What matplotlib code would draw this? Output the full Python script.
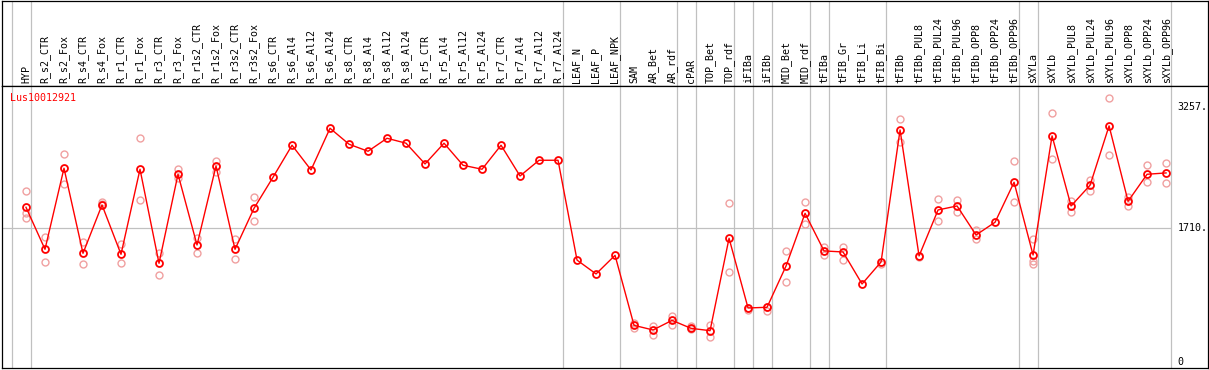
import matplotlib
matplotlib.use("Agg")
from matplotlib import pyplot as plt

# category names along the top
samples = ["HYP", "R_s2_CTR", "R_s2_Fox", "R_s4_CTR", "R_s4_Fox", "R_r1_CTR", "R_r1_Fox",
           "R_r3_CTR", "R_r3_Fox", "R_r1s2_CTR", "R_r1s2_Fox", "R_r3s2_CTR", "R_r3s2_Fox",
           "R_s6_CTR", "R_s6_Al4", "R_s6_Al12", "R_s6_Al24", "R_s8_CTR", "R_s8_Al4",
           "R_s8_Al12", "R_s8_Al24", "R_r5_CTR", "R_r5_Al4", "R_r5_Al12", "R_r5_Al24",
           "R_r7_CTR", "R_r7_Al4", "R_r7_Al12", "R_r7_Al24", "LEAF_N", "LEAF_P", "LEAF_NPK",
           "SAM", "AR_Bet", "AR_rdf", "cPAR", "TOP_Bet", "TOP_rdf", "iFIBa", "iFIBb",
           "MID_Bet", "MID_rdf", "tFIBa", "tFIB_Gr", "tFIB_Li", "tFIB_Bi", "tFIBb",
           "tFIBb_PUL8", "tFIBb_PUL24", "tFIBb_PUL96", "tFIBb_OPP8", "tFIBb_OPP24",
           "tFIBb_OPP96", "sXYLa", "sXYLb", "sXYLb_PUL8", "sXYLb_PUL24", "sXYLb_PUL96",
           "sXYLb_OPP8", "sXYLb_OPP24", "sXYLb_OPP96"]

# mean expression per sample
means = [1975, 1438, 2474, 1387, 2005, 1374, 2461, 1259, 2397, 1493, 2503, 1438, 1962,
         2359, 2768, 2452, 2985, 2781, 2691, 2857, 2794, 2529, 2794, 2512, 2461, 2768,
         2375, 2576, 2576, 1300, 1123, 1361, 466, 407, 530, 428, 398, 1579, 688, 697,
         1225, 1898, 1417, 1404, 995, 1276, 2963, 1353, 1941, 1992, 1621, 1784, 2295,
         1365, 2887, 1992, 2257, 3015, 2052, 2397, 2414]

# individual replicates (where visible)
replicates = [[2183, 1906, 1842], [1595, 1272], [2656, 2276], [1531, 1250], [2042, 2017],
              [1505, 1263], [2856, 2068], [1394, 1105], [2464, 2345], [1586, 1394],
              [2570, 2429], [1566, 1310], [2110, 1803],
              [], [], [], [], [], [], [], [], [], [], [], [], [], [], [], [],
              [], [], [],
              [500, 436], [462, 339], [589, 474], [462, 419], [466, 321], [2026, 1144],
              [684, 662], [704, 653], [1417, 1016], [2047, 1758], [1464, 1365],
              [1472, 1298], [], [1250], [3100, 2806], [1335], [2081, 1796], [2069, 1911],
              [1685, 1566], [], [2567, 2039], [1566, 1293, 1247], [3177, 2589],
              [2060, 1911], [2328, 2188], [3373, 2644], [2111, 1996], [2516, 2299],
              [2542, 2282]]

# group separators sit after these sample indices
separators = [-1, 0, 28, 31, 34, 35, 37, 38, 39, 41, 42, 45, 52, 53, 60]

title = "Lus10012921"
ytick_vals = [3257, 1710, 0]
ytick_text = ["3257.", "1710.", "0"]
hline_val = 1710

W, H = 1209, 370
font = "DejaVu Sans Mono"
fs = 7.2
grid_c = "#c0c0c0"

fig = plt.figure(figsize=(W / 100, H / 100), dpi=100)
x0, x1 = 2 / W, 1207.5 / W
sep_y = (H - 86) / H
ax_top = fig.add_axes([x0, sep_y, x1 - x0, 0.998 - sep_y])
ax = fig.add_axes([x0, 2 / H, x1 - x0, sep_y - 2 / H])

xmin, xmax = -1.263, 62.18
for a in (ax_top, ax):
    a.set_xlim(xmin, xmax)
    a.set_xticks([])
    a.set_yticks([])
    for s in a.spines.values():
        s.set_linewidth(0.9)
        s.set_color("black")
    for s in separators:
        a.axvline(s + 0.25, color=grid_c, lw=0.9, zorder=0)

ax_top.set_ylim(0, 1)
ax.set_ylim(-79, 3525)

xs = list(range(len(samples)))
for i, name in enumerate(samples):
    ax_top.text(i, 0.035, name, rotation=90, ha="center", va="bottom",
                family=font, fontsize=fs, color="black")

ax.hlines(hline_val, xmin, separators[-1] + 0.25, color=grid_c, lw=0.9, zorder=0)

rx, ry = [], []
for i, reps in enumerate(replicates):
    for v in reps:
        rx.append(i)
        ry.append(v)
ax.plot(rx, ry, "o", ls="none", ms=5, mfc="none", mec="#f0a0a0", mew=1.0, zorder=2)

ax.plot(xs, means, "-", color="red", lw=1.0, zorder=3)
ax.plot(xs, means, "o", ls="none", ms=5, mfc="none", mec="red", mew=1.3, zorder=4)

for v, t in zip(ytick_vals, ytick_text):
    ax.text(60.6, v, t, ha="left", va="center", family=font, fontsize=fs, color="black")

ax.text(-0.84, 3375, title, ha="left", va="center", family=font, fontsize=fs, color="red")

fig.savefig("out.png", dpi=100)
